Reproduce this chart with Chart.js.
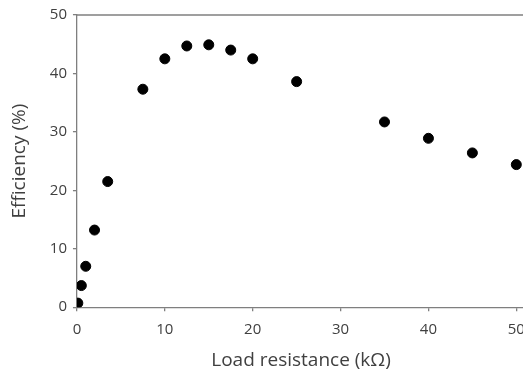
<!DOCTYPE html>
<html>
<head>
<meta charset="utf-8">
<script src="https://cdn.jsdelivr.net/npm/chart.js@4"></script>
<style>
  html, body { margin: 0; padding: 0; background: #fff; overflow: hidden; }
  #wrap { width: 535px; height: 374px; }
</style>
</head>
<body>
<div id="wrap"><canvas id="myChart"></canvas></div>
<script>
// Load resistance (kOhm) and efficiency (%)
const loadResistance = [0.1, 0.5, 1, 2, 3.5, 7.5, 10, 12.5, 15, 17.5, 20, 25, 35, 40, 45, 50];
const efficiency = [0.7, 3.7, 7.0, 13.2, 21.5, 37.3, 42.5, 44.7, 44.9, 44.0, 42.5, 38.6, 31.7, 28.9, 26.4, 24.4];
const xTicks = [0, 10, 20, 30, 40, 50];
const yTicks = [0, 10, 20, 30, 40, 50];

const axisColor = '#7f7f7f';
const textColor = '#404040';
const font = 'Open Sans';

// top edge of the plot box
const topBorder = {
    id: 'topBorder',
    afterDraw(chart) {
        const { ctx, chartArea } = chart;
        ctx.save();
        ctx.strokeStyle = axisColor;
        ctx.lineWidth = 1.3;
        ctx.beginPath();
        ctx.moveTo(chartArea.left, chartArea.top);
        ctx.lineTo(chartArea.right + 10, chartArea.top);
        ctx.stroke();
        ctx.restore();
    }
};

const ctx = document.getElementById('myChart').getContext('2d');
new Chart(ctx, {
    type: 'scatter',
    data: {
        datasets: [{
            data: loadResistance.map((x, i) => ({ x: x, y: efficiency[i] })),
            backgroundColor: '#000',
            borderColor: '#000',
            pointRadius: 5,
            pointHoverRadius: 5
        }]
    },
    options: {
        responsive: true,
        maintainAspectRatio: false,
        animation: false,
        layout: { padding: { top: 5, right: 0, left: 4, bottom: 2 } },
        plugins: { legend: { display: false }, tooltip: { enabled: false } },
        scales: {
            x: {
                type: 'linear',
                min: 0,
                max: 51,
                afterBuildTicks: axis => { axis.ticks = xTicks.map(v => ({ value: v })); },
                grid: { drawOnChartArea: false, tickLength: 4, color: axisColor, lineWidth: 1.3 },
                border: { color: axisColor, width: 1.3 },
                ticks: { color: textColor, font: { family: font, size: 15 }, padding: 10, maxRotation: 0 },
                title: { display: true, text: 'Load resistance (kΩ)', color: textColor,
                         font: { family: font, size: 19 }, padding: { top: 0, bottom: 0 } }
            },
            y: {
                min: 0,
                max: 50,
                afterBuildTicks: axis => { axis.ticks = yTicks.map(v => ({ value: v })); },
                grid: { drawOnChartArea: false, tickLength: 4, color: axisColor, lineWidth: 1.3 },
                border: { color: axisColor, width: 1.3 },
                ticks: { color: textColor, font: { family: font, size: 15 }, padding: 6 },
                title: { display: true, text: 'Efficiency (%)', color: textColor,
                         font: { family: font, size: 19 }, padding: { top: 4, bottom: 13 } }
            }
        }
    },
    plugins: [topBorder]
});
</script>
</body>
</html>
